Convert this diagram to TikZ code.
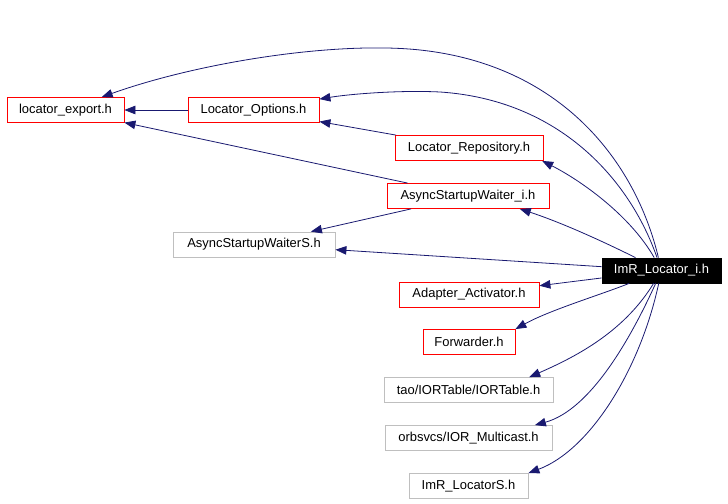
\documentclass[tikz,border=0pt]{standalone}
\usepackage{fontspec}
\setmainfont{Liberation Sans}
\usetikzlibrary{arrows.meta}
\definecolor{edgeblue}{RGB}{25,25,112}
\definecolor{boxgray}{RGB}{191,191,191}
\begin{document}
\begin{tikzpicture}[x=1bp, y=-1bp,
    file/.style={draw, line width=0.8bp, minimum height=25bp, inner sep=0pt, font=\fontsize{13}{15}\selectfont},
    redfile/.style={file, draw=red},
    grayfile/.style={file, draw=boxgray},
    dep/.style={edgeblue, line width=0.8bp, -{Triangle[length=11bp, width=8.5bp]}}]
    \useasboundingbox (0, 0) rectangle (728, 504);
    \node[file, fill=black, text=white, minimum width=119bp] (imr) at (661.5, 270.5) {ImR\_Locator\_i.h};
    \node[redfile, minimum width=117bp] (locexp) at (65.5, 110) {locator\_export.h};
    \node[redfile, minimum width=131bp] (locopt) at (253.5, 110) {Locator\_Options.h};
    \node[redfile, minimum width=148bp] (locrepo) at (469, 148) {Locator\_Repository.h};
    \node[redfile, minimum width=162bp] (aswi) at (468, 196) {AsyncStartupWaiter\_i.h};
    \node[grayfile, minimum width=162bp] (asws) at (254, 244.5) {AsyncStartupWaiterS.h};
    \node[redfile, minimum width=140bp] (adapt) at (469, 294.5) {Adapter\_Activator.h};
    \node[redfile, minimum width=92bp] (fwd) at (469, 342) {Forwarder.h};
    \node[grayfile, minimum width=169bp] (iort) at (468.5, 390) {tao/IORTable/IORTable.h};
    \node[grayfile, minimum width=167bp] (iormc) at (468.5, 438) {orbsvcs/IOR\_Multicast.h};
    \node[grayfile, minimum width=119bp] (imrs) at (468.5, 486) {ImR\_LocatorS.h};
    \draw[dep] (imr) .. controls (635, 160) and (560, 65) .. (420, 50) .. controls (336, 41) and (200, 62) .. (locexp);
    \draw[dep] (imr) .. controls (630, 180) and (560, 100) .. (440, 92) .. controls (400, 90) and (350, 94) .. (locopt);
    \draw[dep] (imr) .. controls (630, 215) and (580, 180) .. (locrepo.-10);
    \draw[dep] (imr) .. controls (600, 240) and (560, 222) .. (aswi.-14);
    \draw[dep] (imr) -- (asws);
    \draw[dep] (imr) -- (adapt);
    \draw[dep] (imr) .. controls (600, 295) and (550, 310) .. (fwd.north east);
    \draw[dep] (imr) .. controls (625, 330) and (580, 355) .. (iort.12);
    \draw[dep] (imr) .. controls (630, 340) and (590, 410) .. (iormc.11);
    \draw[dep] (imr) .. controls (640, 370) and (590, 450) .. (imrs.north east);
    \draw[dep] (locopt) -- (locexp);
    \draw[dep] (locrepo) -- (locopt);
    \draw[dep] (aswi) -- (locexp);
    \draw[dep] (aswi) -- (asws);
\end{tikzpicture}
\end{document}
